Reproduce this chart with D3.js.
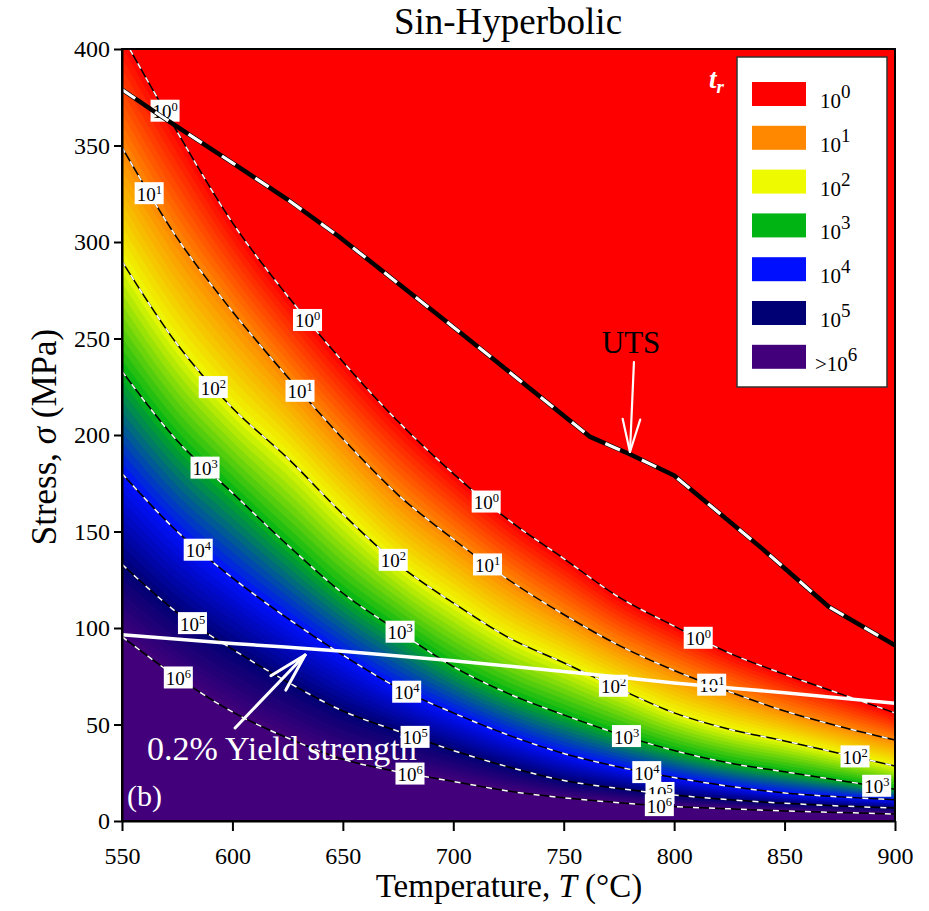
<!DOCTYPE html>
<html>
<head>
<meta charset="utf-8">
<script src="https://cdn.jsdelivr.net/npm/d3@7"></script>
<style>
  body { margin: 0; background: #fff; }
  svg text { font-family: "Liberation Serif", "Times New Roman", serif; }
</style>
</head>
<body>
<svg id="chart" width="929" height="911"></svg>
<script>
// ---- Data: stress (MPa) at which rupture time t_r reaches each decade ----
const temperatures = [550, 575, 600, 625, 650, 675, 700, 725, 750, 775, 800, 825, 850, 875, 900];
const stressTr1e0 = [407, 357, 310, 272, 238, 207, 180, 156, 136, 116, 101, 87, 76, 66, 56];
const stressTr1e1 = [349, 302, 264, 230, 198, 169, 146, 125, 107, 91, 78, 67, 57, 49, 42];
const stressTr1e2 = [290, 247, 214, 188, 159, 133, 113, 95, 82, 68.5, 56, 47.5, 41.5, 35, 28.5];
const stressTr1e3 = [233, 197, 170, 143, 118, 98.5, 80, 66, 55, 45, 36.5, 30, 25.5, 21, 16.5];
const stressTr1e4 = [180, 150, 126, 105, 86, 69, 56, 44.5, 35, 28, 22.5, 18, 14.5, 12.5, 11];
const stressTr1e5 = [133, 108, 89, 72, 57, 46.5, 36.5, 28, 21, 16.8, 13.5, 11, 9.2, 7.8, 6.7];
const stressTr1e6 = [95.5, 74.5, 56.5, 43, 32, 25.5, 20.5, 15.5, 12, 9.5, 7.5, 6.3, 5.2, 4.4, 3.6];
const levelExponents = [0, 1, 2, 3, 4, 5, 6];
const levelStress = [stressTr1e0, stressTr1e1, stressTr1e2, stressTr1e3, stressTr1e4, stressTr1e5, stressTr1e6];

// Ultimate tensile strength and 0.2% yield strength
const utsTemps = [550, 568, 600, 625, 648, 700, 725, 762, 780, 800, 820, 840, 870, 900];
const utsStress = [379, 365, 341, 322, 303, 256, 233, 199, 190, 179, 160, 141, 111, 91];
const yieldTemps = [550, 600, 650, 700, 750, 800, 850, 900];
const yieldStress = [96.5, 92, 88, 83, 77.5, 71.5, 66.5, 61];

// Inline contour labels: decade exponent and temperature where the label sits
const labelExps  = [0, 1, 0, 2, 1, 3, 4, 5, 6, 0, 2, 1, 3, 4, 5, 6, 0, 2, 1, 3, 4, 5, 6, 2, 3];
const labelTemps = [569.5, 562.3, 634, 591.3, 630.6, 587.6, 584.5, 581.9, 575.5,
                    714.9, 672.8, 715.5, 675.9, 678.9, 682.7, 680.4,
                    810.9, 772.5, 817, 778.4, 787.6, 793.6, 793.3, 881.9, 891.7];

const xTicks = [550, 600, 650, 700, 750, 800, 850, 900];
const yTicks = [0, 50, 100, 150, 200, 250, 300, 350, 400];
const legendExps = ["0", "1", "2", "3", "4", "5", "6"];

// ---- Styling ----
const levelColors = ["#ff0000", "#ff8800", "#eefa00", "#00b414", "#0010ff", "#000074", "#42007a"];
const serif = "'Liberation Serif', 'Times New Roman', serif";

const svg = d3.select("#chart");
const x = d3.scaleLinear().domain([550, 900]).range([122, 895]);
const y = d3.scaleLinear().domain([0, 400]).range([821, 49]);
const color = d3.scaleLinear().domain(levelExponents).range(levelColors)
  .interpolate(d3.interpolateRgb).clamp(true);

// Monotone cubic (same construction as d3.curveMonotoneX) for sampling a level curve
function monotone(xs, ys) {
  const n = xs.length, h = [], s = [], m = new Array(n);
  for (let i = 0; i < n - 1; i++) { h[i] = xs[i + 1] - xs[i]; s[i] = (ys[i + 1] - ys[i]) / h[i]; }
  const sg = v => v < 0 ? -1 : 1;
  for (let i = 1; i < n - 1; i++) {
    const p = (s[i - 1] * h[i] + s[i] * h[i - 1]) / (h[i - 1] + h[i]);
    m[i] = (sg(s[i - 1]) + sg(s[i])) * Math.min(Math.abs(s[i - 1]), Math.abs(s[i]), 0.5 * Math.abs(p)) || 0;
  }
  m[0] = (3 * s[0] - m[1]) / 2;
  m[n - 1] = (3 * s[n - 2] - m[n - 2]) / 2;
  return t => {
    let i = d3.bisectRight(xs, t) - 1;
    i = Math.max(0, Math.min(n - 2, i));
    const u = (t - xs[i]) / h[i], u2 = u * u, u3 = u2 * u;
    return (2 * u3 - 3 * u2 + 1) * ys[i] + (u3 - 2 * u2 + u) * h[i] * m[i]
         + (-2 * u3 + 3 * u2) * ys[i + 1] + (u3 - u2) * h[i] * m[i + 1];
  };
}
const levelFns = levelStress.map(s => monotone(temperatures, s));

// ---- Field of log10(t_r) on a grid, between the level curves ----
const dT = 1, dS = 0.5;
const nx = Math.round(350 / dT) + 1, ny = Math.round(400 / dS) + 1;
const values = new Float64Array(nx * ny);
for (let i = 0; i < nx; i++) {
  const T = 550 + i * dT;
  const L = levelFns.map(f => f(T));
  for (let j = 0; j < ny; j++) {
    const s = j * dS;
    let v;
    if (s >= L[0]) v = -(s - L[0]) / (L[0] - L[1]);
    else if (s <= L[6]) v = 6 + (L[6] - s) / (L[5] - L[6]);
    else {
      let k = 0;
      while (k < 5 && s < L[k + 1]) k++;
      v = k + (L[k] - s) / (L[k] - L[k + 1]);
    }
    values[i + j * nx] = v;
  }
}

const thresholds = d3.range(0, 60).map(k => k / 10).concat([6]);
const contours = d3.contours().size([nx, ny]).thresholds(thresholds)(values);
const proj = d3.geoTransform({
  point(px, py) { this.stream.point(x(550 + (px - 0.5) * dT), y((py - 0.5) * dS)); }
});
const geo = d3.geoPath(proj);

svg.append("defs").append("clipPath").attr("id", "plotClip")
  .append("rect").attr("x", 122).attr("y", 49).attr("width", 773).attr("height", 772);

const plot = svg.append("g").attr("clip-path", "url(#plotClip)");
plot.append("rect").attr("x", 122).attr("y", 49).attr("width", 773).attr("height", 772)
  .attr("fill", color(0));
plot.append("g").selectAll("path").data(contours).join("path")
  .attr("d", geo)
  .attr("fill", d => color(Math.min(d.value + 0.05, 6)))
  .attr("stroke", d => color(Math.min(d.value + 0.05, 6)))
  .attr("stroke-width", 0.4);

// Contour lines: black with white dashes
const levelLine = d3.line().x(d => x(d[0])).y(d => y(d[1])).curve(d3.curveMonotoneX);
levelStress.forEach(s => {
  const pts = temperatures.map((t, i) => [t, s[i]]);
  plot.append("path").attr("d", levelLine(pts)).attr("fill", "none")
    .attr("stroke", "#000").attr("stroke-width", 1.5);
  plot.append("path").attr("d", levelLine(pts)).attr("fill", "none")
    .attr("stroke", "#fff").attr("stroke-width", 1.5).attr("stroke-dasharray", "6 10");
});

// Annotation texts under the labels
plot.append("text").attr("x", x(561.3)).attr("y", y(31.6))
  .attr("fill", "#fff").attr("font-size", 34).text("0.2% Yield strength");
plot.append("text").attr("x", x(552.3)).attr("y", y(7.8))
  .attr("fill", "#fff").attr("font-size", 30).text("(b)");

// Inline labels
labelExps.forEach((e, i) => {
  const T = labelTemps[i];
  const cx = x(T), cy = y(levelFns[e](T));
  const g = plot.append("g").attr("transform", `translate(${cx},${cy})`);
  g.append("rect").attr("x", -14.5).attr("y", -11.5).attr("width", 29).attr("height", 22).attr("fill", "#fff");
  const t = g.append("text").attr("x", -12.5).attr("y", 7).attr("fill", "#000");
  t.append("tspan").attr("font-size", 19).text("10");
  t.append("tspan").attr("font-size", 12.5).attr("dy", -7).text(String(e));
});

// Yield strength line (solid white)
plot.append("path")
  .attr("d", d3.line().x(d => x(d[0])).y(d => y(d[1])).curve(d3.curveMonotoneX)(
    yieldTemps.map((t, i) => [t, yieldStress[i]])))
  .attr("fill", "none").attr("stroke", "#fff").attr("stroke-width", 3.5);

// UTS line: thick black with white dashes
const utsPts = utsTemps.map((t, i) => [t, utsStress[i]]);
const utsPath = d3.line().x(d => x(d[0])).y(d => y(d[1])).curve(d3.curveLinear)(utsPts);
plot.append("path").attr("d", utsPath).attr("fill", "none")
  .attr("stroke", "#000").attr("stroke-width", 4.5).attr("stroke-linejoin", "round");
plot.append("path").attr("d", utsPath).attr("fill", "none")
  .attr("stroke", "#fff").attr("stroke-width", 3.2).attr("stroke-dasharray", "16 24");

// Arrows with open heads
function arrow(from, to, width, headLen) {
  const x0 = x(from[0]), y0 = y(from[1]), x1 = x(to[0]), y1 = y(to[1]);
  const a = Math.atan2(y0 - y1, x0 - x1), da = 15 * Math.PI / 180;
  const g = plot.append("g").attr("stroke", "#fff").attr("stroke-width", width)
    .attr("stroke-linecap", "round").attr("fill", "none");
  g.append("line").attr("x1", x0).attr("y1", y0).attr("x2", x1).attr("y2", y1);
  [a - da, a + da].forEach(b => g.append("line").attr("x1", x1).attr("y1", y1)
    .attr("x2", x1 + headLen * Math.cos(b)).attr("y2", y1 + headLen * Math.sin(b)));
}
arrow([601.2, 48.2], [632.9, 86], 3, 40);
arrow([781.8, 237.8], [780, 191.2], 2.2, 34);

plot.append("text").attr("x", x(780.5)).attr("y", y(242.5)).attr("text-anchor", "middle")
  .attr("fill", "#000").attr("font-size", 31).text("UTS");

// Frame and axes
svg.append("rect").attr("x", 122).attr("y", 49).attr("width", 773).attr("height", 772)
  .attr("fill", "none").attr("stroke", "#000").attr("stroke-width", 2);

const gx = svg.append("g").attr("transform", "translate(0,821)")
  .call(d3.axisBottom(x).tickValues(xTicks).tickSize(10).tickPadding(16).tickSizeOuter(0));
const gy = svg.append("g").attr("transform", "translate(122,0)")
  .call(d3.axisLeft(y).tickValues(yTicks).tickSize(8).tickPadding(4).tickSizeOuter(0));
[gx, gy].forEach(g => {
  g.attr("font-family", serif);
  g.select(".domain").attr("stroke", "#000").attr("stroke-width", 2);
  g.selectAll(".tick line").attr("stroke", "#000").attr("stroke-width", 2);
  g.selectAll(".tick text").attr("font-size", 24).attr("fill", "#000");
});

// Titles
svg.append("text").attr("x", 508).attr("y", 34).attr("text-anchor", "middle")
  .attr("font-size", 37).text("Sin-Hyperbolic");
const xt = svg.append("text").attr("x", 509).attr("y", 897).attr("text-anchor", "middle").attr("font-size", 33);
xt.append("tspan").text("Temperature, ");
xt.append("tspan").attr("font-style", "italic").text("T");
xt.append("tspan").text(" (°C)");
const yt = svg.append("text").attr("transform", "translate(56,437) rotate(-90)")
  .attr("text-anchor", "middle").attr("font-size", 35);
yt.append("tspan").text("Stress, ");
yt.append("tspan").attr("font-style", "italic").text("σ");
yt.append("tspan").text(" (MPa)");

// t_r tag
const tr = svg.append("text").attr("x", 709).attr("y", 88).attr("fill", "#fff")
  .attr("font-weight", "bold").attr("font-style", "italic");
tr.append("tspan").attr("font-size", 27).text("t");
tr.append("tspan").attr("font-size", 19).attr("dy", 5).text("r");

// Legend
const lg = svg.append("g");
lg.append("rect").attr("x", 737).attr("y", 57).attr("width", 150).attr("height", 330)
  .attr("fill", "#fff").attr("stroke", "#333").attr("stroke-width", 1.5);
legendExps.forEach((e, i) => {
  const top = 82 + i * 43.8;
  lg.append("rect").attr("x", 752).attr("y", top).attr("width", 54).attr("height", 24)
    .attr("fill", levelColors[i]);
  const t = lg.append("text").attr("x", i === 6 ? 815 : 820).attr("y", top + 26).attr("font-size", 21).attr("fill", "#000");
  t.append("tspan").text(i === 6 ? ">10" : "10");
  t.append("tspan").attr("font-size", 19).attr("dy", -10).text(e);
});
</script>
</body>
</html>
